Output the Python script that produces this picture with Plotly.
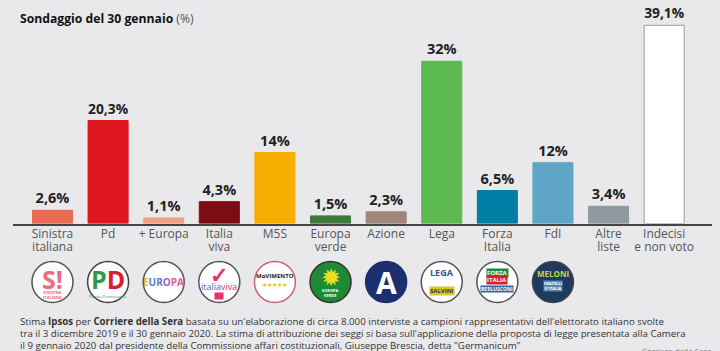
import plotly.graph_objects as go

parties_line1 = ["Sinistra", "Pd", "+ Europa", "Italia", "M5S", "Europa", "Azione", "Lega", "Forza", "FdI", "Altre", "Indecisi"]
parties_line2 = ["italiana", "", "", "viva", "", "verde", "", "", "Italia", "", "liste", "e non voto"]
values = [2.6, 20.3, 1.1, 4.3, 14, 1.5, 2.3, 32, 6.5, 12, 3.4, 39.1]
value_labels = ["2,6%", "20,3%", "1,1%", "4,3%", "14%", "1,5%", "2,3%", "32%", "6,5%", "12%", "3,4%", "39,1%"]
bar_colors = ["#ea6a52", "#e0161e", "#f0a184", "#7f0c14", "#f5ae00", "#3f7a3c", "#a08579", "#5cba50", "#007ea6", "#5fa5c6", "#8f9a9e", "#ffffff"]
bar_lines = ["#ea6a52", "#e0161e", "#f0a184", "#7f0c14", "#f5ae00", "#3f7a3c", "#a08579", "#5cba50", "#007ea6", "#5fa5c6", "#8f9a9e", "#9a9a9a"]

logo_fill = ["#ffffff", "#ffffff", "#ffffff", "#ffffff", "#ffffff", "#1f8a35", "#1c2f6e", "#ffffff", "#ffffff", "#1d3a5f"]
logo_ring = ["#555555", "#444444", "#555555", "#555555", "#c9607a", "#333333", "#1c2f6e", "#555555", "#555555", "#444444"]
# logo index, vertical offset in px, text, colour, size, background
logo_marks = [
    (0, -3, "<b>S!</b>", "#f06a80", 25, None),
    (0, 13, "<b>SINISTRA<br>ITALIANA</b>", "#f06a80", 4, None),
    (1, -3, "<b><span style='color:#2e9a46'>P</span><span style='color:#d8202a'>D</span></b>", "#d8202a", 25, None),
    (1, 14, "Partito Democratico", "#2e9a46", 4, None),
    (2, 0, "<b><span style='color:#d8b030'>E</span><span style='color:#5a7ad0'>UR</span><span style='color:#a060c0'>O</span><span style='color:#e05aa0'>PA</span></b>", "#5a7ad0", 10, None),
    (3, -8, "<b>✓</b>", "#e8306a", 22, None),
    (3, 4, "italia<span style='color:#e8306a'>viva</span>", "#3a6ac0", 9, None),
    (3, 14, "      ", "#e8306a", 5, "#e8306a"),
    (4, -6, "<b>MoVIMENTO</b>", "#222222", 6, None),
    (4, 3, "★★★★★", "#e0c020", 6, None),
    (5, -6, "✹", "#e8e020", 24, None),
    (5, 11, "<b>EUROPA<br>VERDE</b>", "#ffffff", 4, None),
    (6, 0, "<b>A</b>", "#ffffff", 30, None),
    (7, -10, "<b>LEGA</b>", "#3c4f90", 9, None),
    (7, 9, "<b>SALVINI</b>", "#333333", 6, "#d9c62f"),
    (8, -9, "<b>FORZA</b>", "#ffffff", 6, "#1c8a40"),
    (8, -2, "<b>ITALIA</b>", "#ffffff", 6, "#d8202a"),
    (8, 7, "<b>BERLUSCONI</b>", "#ffffff", 5, "#2a68a8"),
    (9, -9, "<b>MELONI</b>", "#c8d850", 8, None),
    (9, 4, "<b>FRATELLI<br>D'ITALIA</b>", "#ffffff", 4, "#5d86aa"),
]

title_text = "<b>Sondaggio del 30 gennaio</b> <span style='color:#555555'>(%)</span>"
footer_lines = [
    "Stima <b>Ipsos</b> per <b>Corriere della Sera</b> basata su un'elaborazione di circa 8.000 interviste a campioni rappresentativi dell'elettorato italiano svolte",
    "tra il 3 dicembre 2019 e il 30 gennaio 2020. La stima di attribuzione dei seggi si basa sull'applicazione della proposta di legge presentata alla Camera",
    "il 9 gennaio 2020 dal presidente della Commissione affari costituzionali, Giuseppe Brescia, detta \"Germanicum\"",
]
source_text = "Corriere della Sera"

W, H = 720, 351
FONT = "Open Sans"
idx = list(range(len(values)))
logo_idx = idx[:len(logo_fill)]
x_range = [-0.71, 11.86]
LOGO_PX_PER_UNIT = 28

fig = go.Figure()
fig.add_trace(go.Bar(
    x=idx, y=values, width=0.72,
    marker=dict(color=bar_colors, line=dict(color=bar_lines, width=1)),
    text=value_labels, textposition="outside", cliponaxis=False,
    textfont=dict(family=FONT, size=14.5, color="#222222", weight=700),
    showlegend=False, hoverinfo="skip",
))
fig.add_trace(go.Scatter(
    x=logo_idx, y=[0] * len(logo_idx), xaxis="x2", yaxis="y2", mode="markers",
    marker=dict(size=41, color=logo_fill, line=dict(color=logo_ring, width=1.5)),
    showlegend=False, hoverinfo="skip", cliponaxis=False,
))

fig.update_layout(
    width=W, height=H, margin=dict(l=0, r=0, t=0, b=0),
    paper_bgcolor="#e9e9eb", plot_bgcolor="rgba(0,0,0,0)",
    font=dict(family=FONT, color="#555555"),
    xaxis=dict(
        domain=[13 / W, 712 / W], range=x_range, tickmode="array", tickvals=idx, ticktext=parties_line1,
        showgrid=False, zeroline=False, showline=True, linecolor="#444444", linewidth=1.5,
        ticks="", tickfont=dict(family=FONT, size=12, color="#555555"), anchor="y", fixedrange=True,
        ticklabelstandoff=-2,
    ),
    yaxis=dict(domain=[1 - 223.5 / H, 1], range=[0, 44.08], visible=False, fixedrange=True),
    xaxis2=dict(
        domain=[13 / W, 712 / W], range=x_range, tickmode="array", tickvals=idx, ticktext=parties_line2,
        showgrid=False, zeroline=False, showline=False, ticks="",
        tickfont=dict(family=FONT, size=12, color="#555555"), anchor="free", position=1 - 238 / H, overlaying="x", side="bottom",
    ),
    yaxis2=dict(domain=[1 - 310 / H, 1 - 254 / H], range=[-1, 1], visible=False, anchor="x2"),
)

for i, dy, text, color, size, bg in logo_marks:
    fig.add_annotation(text=text, xref="x2", yref="y2", x=i, y=-dy / LOGO_PX_PER_UNIT, showarrow=False,
                       xanchor="center", yanchor="middle", borderpad=0, bgcolor=bg,
                       font=dict(family=FONT, size=size, color=color))

fig.add_annotation(text=title_text, xref="paper", yref="paper", x=19 / W, y=1 - 18 / H, xanchor="left", yanchor="middle",
                   showarrow=False, font=dict(family=FONT, size=12.2, color="#111111"), borderpad=0)
for text, py in zip(footer_lines, [321, 333, 345]):
    fig.add_annotation(text=text, xref="paper", yref="paper", x=19 / W, y=1 - py / H, xanchor="left", yanchor="middle",
                       showarrow=False, font=dict(family=FONT, size=9.7, color="#333333"), borderpad=0)
fig.add_annotation(text=source_text, xref="paper", yref="paper", x=712 / W, y=1 - 350 / H, xanchor="right", yanchor="middle",
                   showarrow=False, font=dict(family=FONT, size=8, color="#777777"), borderpad=0)

fig.write_html("out.html", config={"displayModeBar": False},
               post_script="document.body.style.margin='0';document.body.style.overflow='hidden';document.body.style.background='#e9e9eb';")
